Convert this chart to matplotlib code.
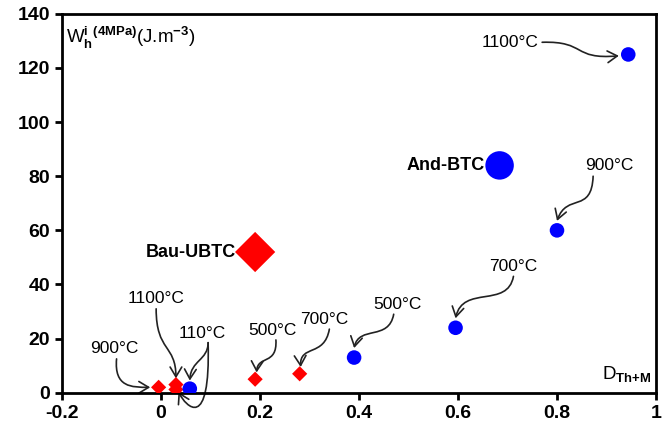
import matplotlib
matplotlib.use("Agg")
import matplotlib.pyplot as plt
from matplotlib.patches import FancyArrowPatch
from matplotlib.path import Path

plt.rcParams["font.family"] = ["Liberation Sans", "DejaVu Sans"]
plt.rcParams["mathtext.fontset"] = "custom"
plt.rcParams["mathtext.rm"] = "Liberation Sans"
plt.rcParams["mathtext.bf"] = "Liberation Sans:bold"

# blue circles (And-BTC treated at temperatures)
blue_x = [0.058, 0.39, 0.595, 0.80, 0.944]
blue_y = [1.5, 13, 24, 60, 125]
# red diamonds (Bau-UBTC treated at temperatures)
red_x = [-0.005, 0.03, 0.03, 0.19, 0.28]
red_y = [2, 3, 1.2, 5, 7]
# untreated references
and_btc = (0.684, 84)
bau_ubtc = (0.19, 52)

x_ticks = [-0.2, 0, 0.2, 0.4, 0.6, 0.8, 1]
x_labels = ["-0.2", "0", "0.2", "0.4", "0.6", "0.8", "1"]
y_ticks = [0, 20, 40, 60, 80, 100, 120, 140]


def curved_arrow(ax, pts):
    path = Path(pts, [Path.MOVETO, Path.CURVE4, Path.CURVE4, Path.CURVE4])
    arrow = FancyArrowPatch(path=path, arrowstyle="->,head_length=0.5,head_width=0.3",
                            mutation_scale=14, color="#222222", linewidth=1.2,
                            transform=ax.transData, clip_on=False)
    ax.add_patch(arrow)


fig = plt.figure(figsize=(6.68, 4.33), dpi=100)
ax = fig.add_axes([0.093, 0.093, 0.889, 0.875])

ax.scatter(red_x, red_y, marker="D", s=60, color="#ff0000", zorder=3, edgecolors="none")
ax.scatter([bau_ubtc[0]], [bau_ubtc[1]], marker="D", s=420, color="#ff0000", zorder=3, edgecolors="none")
ax.scatter(blue_x, blue_y, marker="o", s=110, color="#0000ff", zorder=4, edgecolors="none")
ax.scatter([and_btc[0]], [and_btc[1]], marker="o", s=420, color="#0000ff", zorder=4, edgecolors="none")

ax.set_xlim(-0.2, 1)
ax.set_ylim(0, 140)
ax.set_xticks(x_ticks)
ax.set_xticklabels(x_labels)
ax.set_yticks(y_ticks)
for sp in ax.spines.values():
    sp.set_linewidth(2)
ax.tick_params(direction="out", length=5, width=2, labelsize=14)
for lbl in ax.get_xticklabels() + ax.get_yticklabels():
    lbl.set_fontweight("bold")

ax.text(-0.193, 131, r"W$^{\mathbf{i}}_{\mathbf{h}}$$^{\mathbf{(4MPa)}}$(J.m$^{\mathbf{-3}}$)",
        fontsize=13.5, ha="left", va="center")
ax.text(0.99, 6.5, r"D$_{\mathbf{Th{+}M}}$", fontsize=13.5, ha="right", va="center")

ax.text(0.152, bau_ubtc[1], "Bau-UBTC", fontsize=13, fontweight="bold", ha="right", va="center")
ax.text(0.654, and_btc[1], "And-BTC", fontsize=13, fontweight="bold", ha="right", va="center")

tfs = 12.5
# right series labels
ax.text(0.706, 129.5, "1100°C", fontsize=tfs, ha="center", va="center")
curved_arrow(ax, [(0.77, 129.5), (0.86, 130), (0.83, 123), (0.925, 124.5)])
ax.text(0.905, 84, "900°C", fontsize=tfs, ha="center", va="center")
curved_arrow(ax, [(0.873, 80), (0.87, 66), (0.82, 74), (0.80, 63.5)])
ax.text(0.712, 46.5, "700°C", fontsize=tfs, ha="center", va="center")
curved_arrow(ax, [(0.712, 43), (0.70, 31), (0.61, 40), (0.595, 27.5)])
ax.text(0.478, 32.5, "500°C", fontsize=tfs, ha="center", va="center")
curved_arrow(ax, [(0.47, 29), (0.46, 19), (0.40, 25), (0.39, 16.5)])
# left series labels
ax.text(0.33, 27, "700°C", fontsize=tfs, ha="center", va="center")
curved_arrow(ax, [(0.34, 23.5), (0.33, 13), (0.28, 18), (0.282, 9.5)])
ax.text(0.225, 23, "500°C", fontsize=tfs, ha="center", va="center")
curved_arrow(ax, [(0.232, 19.5), (0.235, 10), (0.195, 14), (0.193, 7.5)])
ax.text(0.083, 22, "110°C", fontsize=tfs, ha="center", va="center")
curved_arrow(ax, [(0.095, 18.5), (0.095, 12), (0.06, 12), (0.058, 4.5)])
curved_arrow(ax, [(0.095, 18.5), (0.10, -15), (0.05, -5), (0.035, 0.3)])
ax.text(-0.01, 35, "1100°C", fontsize=tfs, ha="center", va="center")
curved_arrow(ax, [(-0.01, 31), (-0.01, 15), (0.03, 18), (0.03, 5.3)])
ax.text(-0.095, 16.5, "900°C", fontsize=tfs, ha="center", va="center")
curved_arrow(ax, [(-0.09, 12.5), (-0.095, 2), (-0.06, 2), (-0.022, 2)])

fig.savefig("out.png", dpi=100)
